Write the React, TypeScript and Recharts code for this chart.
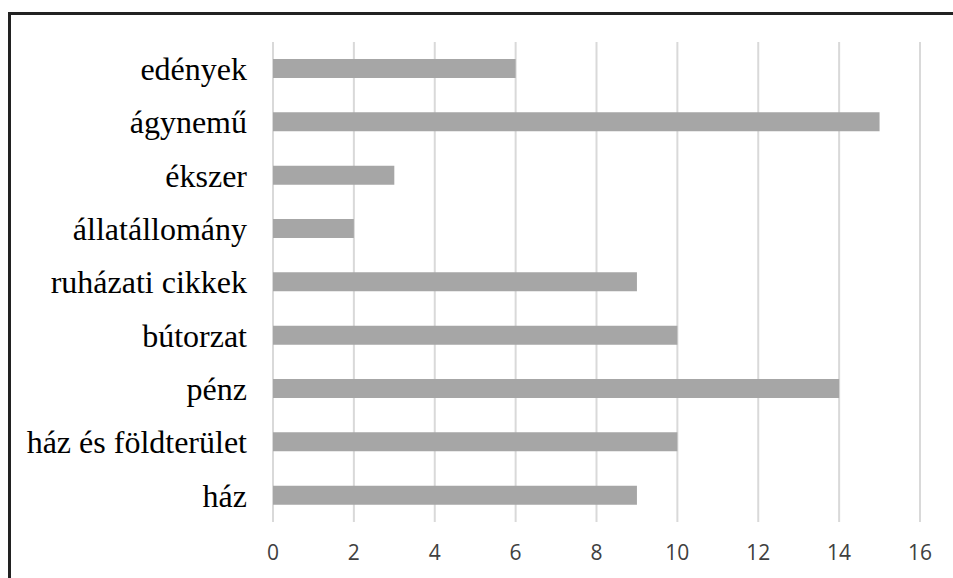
import React from "react";
import { BarChart, Bar, XAxis, YAxis, CartesianGrid } from "recharts";

const categories = [
  "edények",
  "ágynemű",
  "ékszer",
  "állatállomány",
  "ruházati cikkek",
  "bútorzat",
  "pénz",
  "ház és földterület",
  "ház",
];
const values = [6, 15, 3, 2, 9, 10, 14, 10, 9];
const xTicks = [0, 2, 4, 6, 8, 10, 12, 14, 16];

const data = categories.map((name, i) => ({ name, value: values[i] }));

export default function App() {
  return (
    <div style={{ position: "absolute", left: 0, top: 0, width: 953, height: 578, background: "#fff" }}>
      <div style={{ position: "absolute", left: 8, top: 12, width: 945, height: 3, background: "#222" }} />
      <div style={{ position: "absolute", left: 8, top: 12, width: 3, height: 566, background: "#222" }} />
      <BarChart
        width={953}
        height={578}
        data={data}
        layout="vertical"
        margin={{ top: 42, right: 33, bottom: 26, left: 0 }}
        barCategoryGap={0}
      >
        <CartesianGrid horizontal={false} stroke="#d9d9d9" strokeWidth={2} />
        <XAxis
          type="number"
          domain={[0, 16]}
          ticks={xTicks}
          axisLine={false}
          tickLine={false}
          tickMargin={17}
          height={30}
          tick={{ fontSize: 21, fill: "#404040", fontFamily: "'Open Sans', sans-serif" }}
        />
        <YAxis
          type="category"
          dataKey="name"
          width={273}
          axisLine={false}
          tickLine={false}
          tickMargin={20}
          interval={0}
          tick={{ fontSize: 32, fill: "#000", fontFamily: "'Liberation Serif', serif" }}
        />
        <Bar dataKey="value" fill="#a6a6a6" barSize={19} isAnimationActive={false} />
      </BarChart>
    </div>
  );
}
